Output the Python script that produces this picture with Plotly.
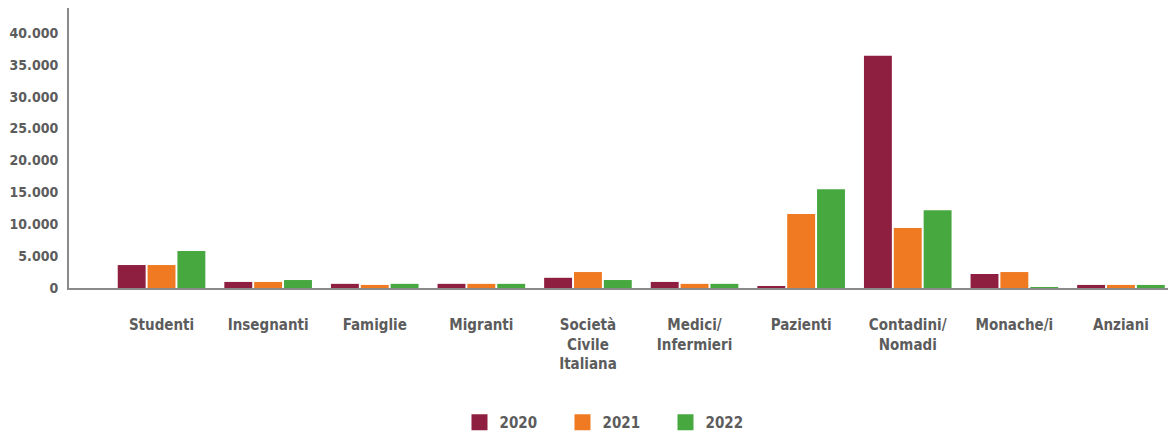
import plotly.graph_objects as go

categorie = ['Studenti', 'Insegnanti', 'Famiglie', 'Migranti', 'Società<br>Civile<br>Italiana',
             'Medici/<br>Infermieri', 'Pazienti', 'Contadini/<br>Nomadi', 'Monache/i', 'Anziani']
v2020 = [3600, 950, 650, 650, 1600, 950, 300, 36400, 2200, 480]
v2021 = [3600, 950, 480, 650, 2500, 650, 11600, 9400, 2500, 480]
v2022 = [5800, 1250, 650, 650, 1250, 650, 15500, 12200, 150, 480]

tick_vals = [0, 5000, 10000, 15000, 20000, 25000, 30000, 35000, 40000]
tick_text = ['0', '5.000', '10.000', '15.000', '20.000', '25.000', '30.000', '35.000', '40.000']

FONT = '"DejaVu Sans Condensed", "Liberation Sans Narrow", sans-serif'

fig = go.Figure()
for nome, valori, colore in [('2020', v2020, '#8E1F41'),
                             ('2021', v2021, '#EF7A22'),
                             ('2022', v2022, '#46A83F')]:
    fig.add_trace(go.Bar(x=categorie, y=valori, name=nome, marker_color=colore,
                         marker_line_width=0, showlegend=False))
    # voce di legenda con quadratino più grande
    fig.add_trace(go.Scatter(x=[None], y=[None], mode='markers', name=nome,
                             marker=dict(symbol='square', size=17, color=colore)))

# la pagina html ha 8px di margine sul body: la figura è più piccola di 8px
fig.update_layout(
    width=1168, height=430,
    margin=dict(l=61, r=6, t=0, b=150, autoexpand=False),
    plot_bgcolor='white', paper_bgcolor='white',
    barmode='group', bargap=0.16, bargroupgap=0.065,
    font=dict(family=FONT, size=15, color='#5c5c5c', weight='bold'),
    showlegend=True,
    legend=dict(orientation='h', x=0.495, xanchor='center', y=-0.48, yanchor='middle',
                font=dict(size=15), itemwidth=30, itemsizing='trace', traceorder='normal',
                entrywidth=58, entrywidthmode='pixels'),
    xaxis=dict(range=[-0.868, 9.46], showline=True, linecolor='#8a8a8a', linewidth=2,
               showgrid=False, ticks='', ticklabelstandoff=22, tickangle=0, automargin=False),
    yaxis=dict(range=[0, 43900], showline=True, linecolor='#8a8a8a', linewidth=2,
               showgrid=False, zeroline=False, tickvals=tick_vals, ticktext=tick_text,
               ticks='', ticklabelstandoff=6, tickfont=dict(size=14), automargin=False),
)

fig.write_html("out.html")
